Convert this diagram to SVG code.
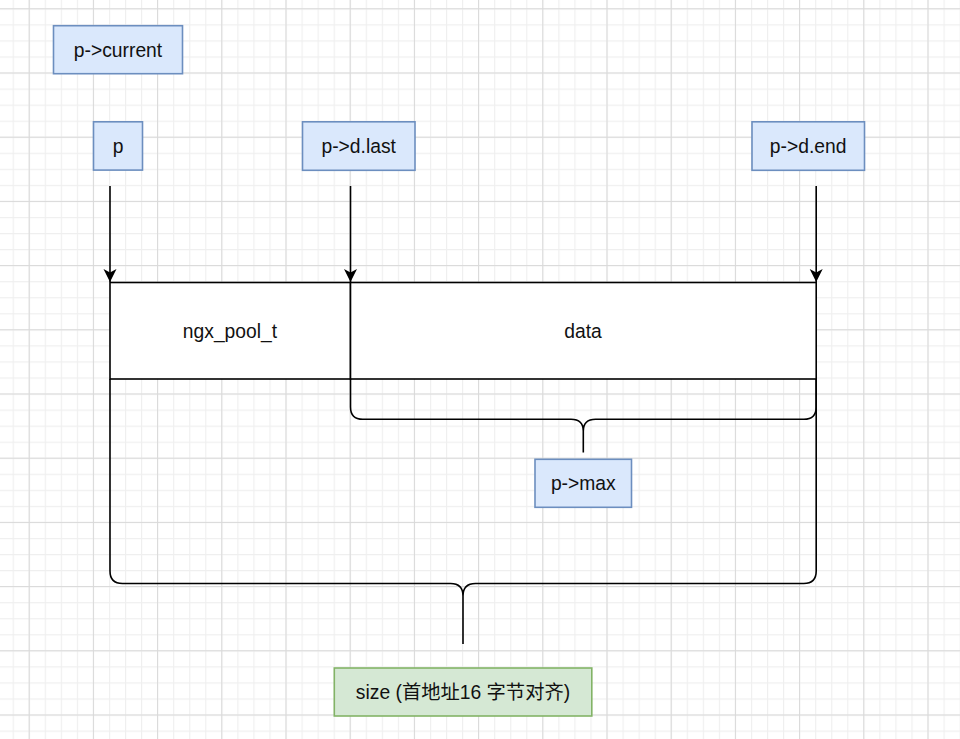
<svg xmlns="http://www.w3.org/2000/svg" width="960" height="739" viewBox="0 0 960 739">
  <defs>
    <pattern id="minor" patternUnits="userSpaceOnUse" x="12.65" y="8.3" width="16.05" height="16.05">
      <path d="M0,0.5 H16.05 M0.5,0 V16.05" fill="none" stroke="#efefef" stroke-width="1.3"/>
    </pattern>
    <pattern id="major" patternUnits="userSpaceOnUse" x="28.7" y="8.3" width="64.2" height="64.2">
      <path d="M0,0.5 H64.2 M0.5,0 V64.2" fill="none" stroke="#d9d9d9" stroke-width="1"/>
    </pattern>
    <marker id="arrow" viewBox="0 0 14 14" refX="13" refY="7" markerWidth="14" markerHeight="14" markerUnits="userSpaceOnUse" orient="auto">
      <path d="M0,0.5 L13,7 L0,13.5 L3.5,7 Z" fill="#000"/>
    </marker>
    <style>
      .blue { fill: #dae8fc; stroke: #6c8ebf; stroke-width: 1.6; }
      .green { fill: #d5e8d4; stroke: #82b366; stroke-width: 1.6; }
      .cell { fill: #ffffff; stroke: #000000; stroke-width: 1.6; }
      .brace { fill: none; stroke: #000000; stroke-width: 1.6; }
      .conn { fill: none; stroke: #000000; stroke-width: 1.6; }
      .lbl { font-family: "Liberation Sans", Arial, "Noto Sans CJK SC", sans-serif; font-size: 19.3px; fill: #111111; text-anchor: middle; dominant-baseline: central; }
    </style>
  </defs>
  <rect x="0" y="0" width="960" height="739" fill="#ffffff"/>
  <rect x="0" y="0" width="960" height="739" fill="url(#minor)"/>
  <rect x="0" y="0" width="960" height="739" fill="url(#major)"/>

  <g id="p-current">
    <rect class="blue" x="53.5" y="25.7" width="129" height="48"/>
    <text class="lbl" x="118" y="50">p-&gt;current</text>
  </g>
  <g id="p">
    <rect class="blue" x="93.5" y="121.8" width="49" height="48.3"/>
    <text class="lbl" x="118" y="146">p</text>
  </g>
  <g id="p-d-last">
    <rect class="blue" x="302.5" y="121.8" width="112.5" height="48.5"/>
    <text class="lbl" x="358.7" y="146">p-&gt;d.last</text>
  </g>
  <g id="p-d-end">
    <rect class="blue" x="752" y="121.8" width="112.5" height="48.5"/>
    <text class="lbl" x="808.2" y="146">p-&gt;d.end</text>
  </g>

  <g id="ngx-pool-t">
    <rect class="cell" x="110" y="282.5" width="240.5" height="96.5"/>
    <text class="lbl" x="230" y="331">ngx_pool_t</text>
  </g>
  <g id="data">
    <rect class="cell" x="350.5" y="282.5" width="465.7" height="96.5"/>
    <text class="lbl" x="583" y="331">data</text>
  </g>

  <g id="brace-max">
    <path class="brace" d="M350.5,379 V407 Q350.5,419.3 362.8,419.3 H571 Q583.3,419.3 583.3,431 Q583.3,419.3 595.6,419.3 H803.9 Q816.2,419.3 816.2,407 V379 M583.3,431 V452.5"/>
  </g>
  <g id="p-max">
    <rect class="blue" x="535" y="459.3" width="96.5" height="48"/>
    <text class="lbl" x="583.3" y="483.3">p-&gt;max</text>
  </g>

  <g id="brace-size">
    <path class="brace" d="M110,379 V571 Q110,583.5 122.5,583.5 H450.5 Q463,583.5 463,596 Q463,583.5 475.5,583.5 H803.7 Q816.2,583.5 816.2,571 V379 M463,596 V644"/>
  </g>
  <g id="size">
    <rect class="green" x="334.3" y="668" width="257.5" height="48"/>
    <text class="lbl" x="463" y="692">size (首地址16 字节对齐)</text>
  </g>

  <g id="connectors">
    <path class="conn" d="M110,186 V282" marker-end="url(#arrow)"/>
    <path class="conn" d="M350.5,186 V282" marker-end="url(#arrow)"/>
    <path class="conn" d="M816.2,186 V282" marker-end="url(#arrow)"/>
  </g>
</svg>
